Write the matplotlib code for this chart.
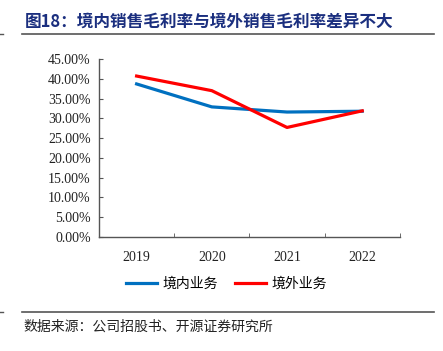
import matplotlib
matplotlib.use('Agg')
import matplotlib.pyplot as plt
from matplotlib.lines import Line2D
from matplotlib.ticker import FuncFormatter, MultipleLocator

# data
years = ['2019', '2020', '2021', '2022']
domestic = [38.7, 32.9, 31.6, 31.8]
overseas = [40.7, 37.0, 27.7, 31.9]
series_names = ['境内业务', '境外业务']

cjk = ['Noto Sans CJK SC', 'DejaVu Sans']
serif = 'Liberation Serif'

fig = plt.figure(figsize=(4.43, 3.51), dpi=100)
ax = fig.add_axes([0.2235, 0.3248, 0.679, 0.507])

x = range(len(years))
ax.plot(x, domestic, color='#0070C0', lw=2.3, label=series_names[0])
ax.plot(x, overseas, color='#FF0000', lw=2.3, label=series_names[1])

ax.set_xlim(-0.5, len(years) - 0.5)
ax.set_ylim(0, 45)
ax.yaxis.set_major_locator(MultipleLocator(5))
ax.yaxis.set_major_formatter(FuncFormatter(lambda v, p: '%.2f%%' % v))
ax.set_xticks(list(x))
ax.set_xticklabels(years)
ax.set_xticks([i + 0.5 for i in x], minor=True)
ax.tick_params(axis='x', which='major', length=0, pad=10)
ax.tick_params(axis='x', which='minor', length=3, direction='in', color='#555555')
ax.tick_params(axis='y', length=3, direction='in', color='#555555', pad=6)
for lab in ax.get_xticklabels() + ax.get_yticklabels():
    lab.set_fontfamily(serif)
    lab.set_fontsize(10)
    lab.set_color('#222222')

for s in ['top', 'right']:
    ax.spines[s].set_visible(False)
for s in ['left', 'bottom']:
    ax.spines[s].set_color('#555555')
    ax.spines[s].set_linewidth(1.0)

leg = fig.legend(handles=[Line2D([], [], color='#0070C0', lw=2.3),
                          Line2D([], [], color='#FF0000', lw=2.3)],
                 labels=series_names, loc='center', bbox_to_anchor=(0.512, 0.191),
                 ncol=2, frameon=False, handlelength=2.25, handletextpad=0.4,
                 columnspacing=1.2, prop={'family': cjk, 'size': 10})

# title and source
fig.text(0.056, 0.937, '图18：境内销售毛利率与境外销售毛利率差异不大', family=cjk,
         fontsize=12, fontweight='bold', color='#1B2F7F', va='center')
fig.add_artist(Line2D([0.05, 0.98], [0.903, 0.903], color='#555555', lw=1.2))
fig.add_artist(Line2D([0.05, 0.98], [0.111, 0.111], color='#555555', lw=1.2))
fig.add_artist(Line2D([0.0, 0.007], [0.903, 0.903], color='#555555', lw=1.0))
fig.add_artist(Line2D([0.0, 0.007], [0.111, 0.111], color='#555555', lw=1.0))
fig.text(0.052, 0.068, '数据来源：公司招股书、开源证券研究所', family=cjk,
         fontsize=10, color='#222222', va='center')

fig.savefig('out.png', dpi=100)
